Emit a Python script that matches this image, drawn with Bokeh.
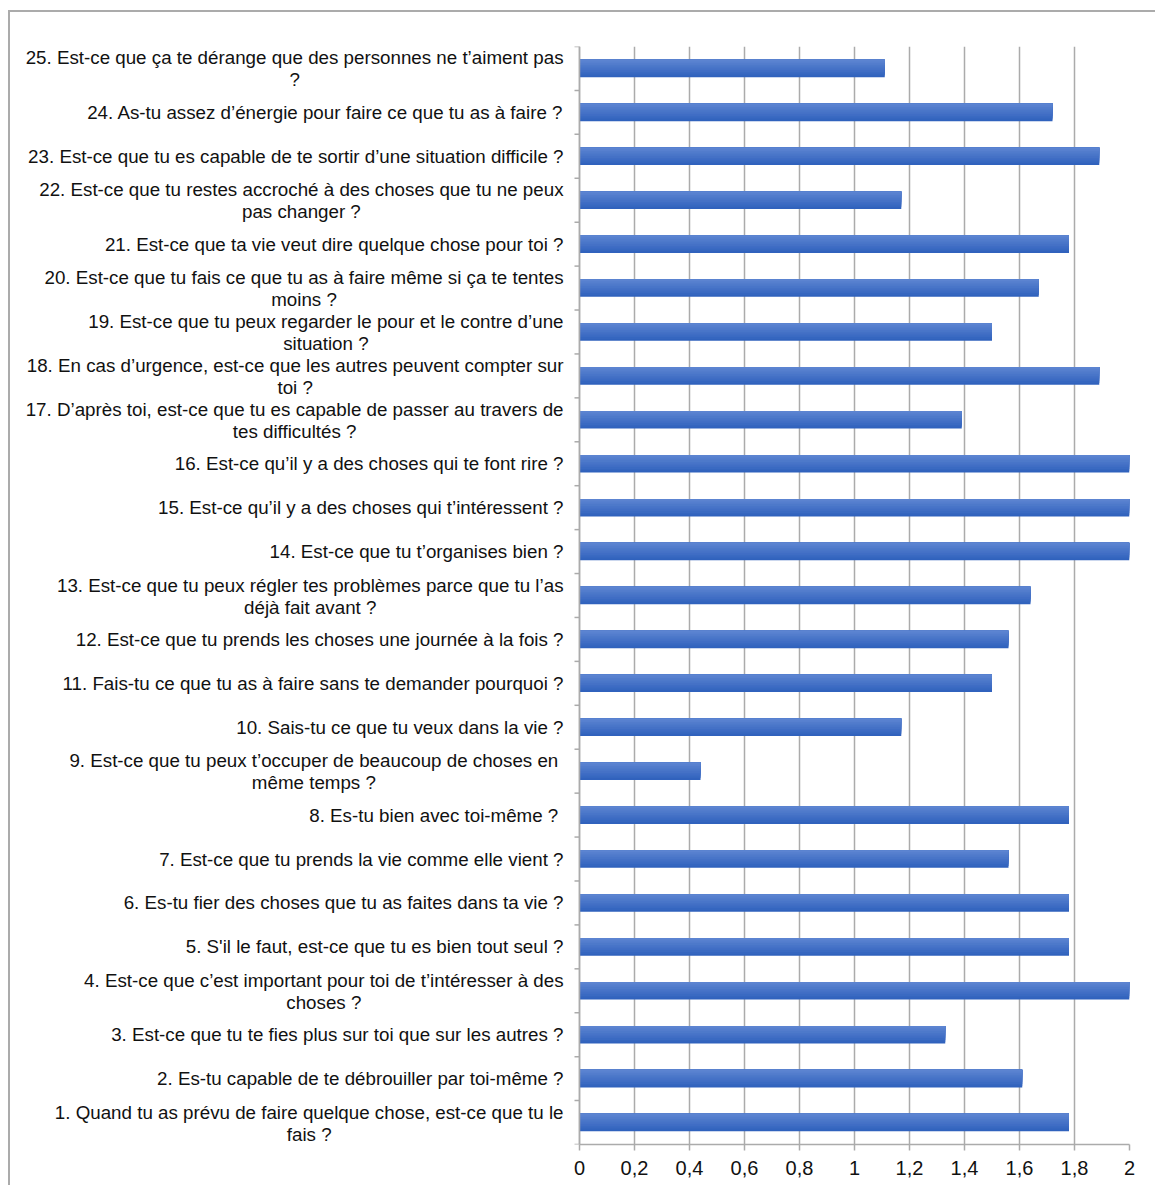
import numpy as np
from bokeh.plotting import figure
from bokeh.models import ColumnDataSource, FixedTicker, CustomJSTickFormatter, Range1d, Span
from bokeh.core.properties import value
from bokeh.embed import file_html
from bokeh.resources import INLINE

# ---------------- data ----------------
questions = list(range(1, 26))
scores = [1.78, 1.61, 1.33, 2.00, 1.78, 1.78, 1.56, 1.78, 0.44, 1.17,
          1.50, 1.56, 1.64, 2.00, 2.00, 2.00, 1.39, 1.89, 1.50, 1.67,
          1.78, 1.17, 1.89, 1.72, 1.11]
label_line1 = [
    "1. Quand tu as prévu de faire quelque chose, est-ce que tu le",
    "2. Es-tu capable de te débrouiller par toi-même ?",
    "3. Est-ce que tu te fies plus sur toi que sur les autres ?",
    "4. Est-ce que c’est important pour toi de t’intéresser à des",
    "5. S'il le faut, est-ce que tu es bien tout seul ?",
    "6. Es-tu fier des choses que tu as faites dans ta vie ?",
    "7. Est-ce que tu prends la vie comme elle vient ?",
    "8. Es-tu bien avec toi-même ? ",
    "9. Est-ce que tu peux t’occuper de beaucoup de choses en ",
    "10. Sais-tu ce que tu veux dans la vie ?",
    "11. Fais-tu ce que tu as à faire sans te demander pourquoi ?",
    "12. Est-ce que tu prends les choses une journée à la fois ?",
    "13. Est-ce que tu peux régler tes problèmes parce que tu l’as",
    "14. Est-ce que tu t’organises bien ?",
    "15. Est-ce qu’il y a des choses qui t’intéressent ?",
    "16. Est-ce qu’il y a des choses qui te font rire ?",
    "17. D’après toi, est-ce que tu es capable de passer au travers de",
    "18. En cas d’urgence, est-ce que les autres peuvent compter sur",
    "19. Est-ce que tu peux regarder le pour et le contre d’une",
    "20. Est-ce que tu fais ce que tu as à faire même si ça te tentes",
    "21. Est-ce que ta vie veut dire quelque chose pour toi ?",
    "22. Est-ce que tu restes accroché à des choses que tu ne peux",
    "23. Est-ce que tu es capable de te sortir d’une situation difficile ?",
    "24. As-tu assez d’énergie pour faire ce que tu as à faire ?",
    "25. Est-ce que ça te dérange que des personnes ne t’aiment pas",
]
label_line2 = [
    "fais ?", "", "", "choses ?", "", "", "", "", "même temps ?", "",
    "", "", "déjà fait avant ?", "", "", "", "tes difficultés ?", "toi ?",
    "situation ?", "moins ?", "", "pas changer ?", "", "", "?",
]
x_ticks = [0, 0.2, 0.4, 0.6, 0.8, 1.0, 1.2, 1.4, 1.6, 1.8, 2.0]
x_max = 2.0

# ---------------- layout / style ----------------
FONT = "Liberation Sans"
FS = 18.75           # px, category labels
AXIS_GAP = 16        # px between value axis and label right edge
LINE_SHIFT = 11      # px half line spacing for two-line labels
CANVAS_W, CANVAS_H = 1147, 1175
FRAME_LEFT = 4       # px, frame starts at left of canvas (labels live inside frame)
AXIS_X = 569         # px from canvas left to value 0
FRAME_RIGHT_PAD = 28
PX_PER_UNIT = (CANVAS_W - FRAME_RIGHT_PAD - AXIS_X) / x_max
x_start = -(AXIS_X - FRAME_LEFT) / PX_PER_UNIT

W = {c: 556 for c in "0123456789"}
W.update({" ": 278, ".": 278, ",": 278, "'": 191, "’": 222, "-": 333, "?": 556})
W.update(dict(zip("ABCDEFGHIJKLMNOPQRSTUVWXYZ",
                  [667, 667, 722, 722, 667, 611, 778, 722, 278, 500, 667, 556, 833,
                   722, 778, 667, 778, 722, 667, 611, 722, 667, 944, 667, 667, 611])))
W.update(dict(zip("abcdefghijklmnopqrstuvwxyz",
                  [556, 556, 500, 556, 556, 278, 556, 556, 222, 222, 500, 222, 833,
                   556, 556, 556, 556, 333, 500, 278, 556, 500, 722, 500, 500, 500])))
for c in "éèêëàâôùû":
    W[c] = 556
W["ç"] = 500
for c in "îï":
    W[c] = 278


def text_width(s):
    return sum(W.get(c, 556) for c in s) * FS / 1000.0


l1_y, l1_yoff, l1_text = [], [], []
l2_y, l2_yoff, l2_xoff, l2_text = [], [], [], []
for q, a, b in zip(questions, label_line1, label_line2):
    l1_y.append(q)
    l1_text.append(a)
    if b:
        l1_yoff.append(-LINE_SHIFT + 0.5)
        trailing = text_width(a) - text_width(a.rstrip())
        l2_y.append(q)
        l2_yoff.append(LINE_SHIFT + 0.5)
        l2_xoff.append(-AXIS_GAP - trailing - text_width(a.rstrip()) / 2.0)
        l2_text.append(b)
    else:
        l1_yoff.append(0.0)

src1 = ColumnDataSource(dict(x=[0.0] * len(l1_y), y=l1_y, yoff=l1_yoff, text=l1_text))
src2 = ColumnDataSource(dict(x=[0.0] * len(l2_y), y=l2_y, yoff=l2_yoff, xoff=l2_xoff, text=l2_text))

# ---------------- figure ----------------
p = figure(width=CANVAS_W, height=CANVAS_H,
           x_range=Range1d(x_start, x_max), y_range=Range1d(0.5, len(questions) + 0.5),
           output_backend="svg", toolbar_location=None, y_axis_location=None,
           min_border_left=FRAME_LEFT, min_border_right=FRAME_RIGHT_PAD,
           min_border_top=34, min_border_bottom=43)
p.styles = {"border-left": "2px solid #ABABAB", "border-top": "2px solid #ABABAB",
            "margin-top": "10px", "margin-left": "8px"}
p.outline_line_color = None
p.background_fill_color = "white"
p.border_fill_color = "white"

GRID = "#ABABAB"
p.ygrid.visible = False
p.xgrid.ticker = FixedTicker(ticks=x_ticks)
p.xgrid.grid_line_color = GRID
p.xgrid.grid_line_width = 1.5

# bars with vertical gradient (light top -> dark bottom), layered to avoid seams
BAR_H = 0.40
N_LAYERS = 10
top_rgb = np.array([94, 134, 210])
bot_rgb = np.array([46, 96, 188])
qs = np.array(questions, dtype=float)
for k in range(N_LAYERS):
    frac = (N_LAYERS - k) / N_LAYERS          # covered fraction measured from bar top
    t = (frac - 0.5 / N_LAYERS)               # position of this layer's lowest band (1=bottom)
    rgb = (top_rgb * (1 - t) + bot_rgb * t).round().astype(int)
    col = "#%02x%02x%02x" % tuple(rgb)
    h = BAR_H * frac
    p.hbar(y=qs + BAR_H / 2 - h / 2, left=0, right=scores, height=h,
           fill_color=col, line_color=None)

# value axis (bottom) restricted to 0..2
p.xaxis.bounds = (0, x_max)
p.xaxis.ticker = FixedTicker(ticks=x_ticks)
p.xaxis.formatter = CustomJSTickFormatter(
    code="return (Math.round(tick*10)/10).toString().replace('.', ',');")
p.xaxis.axis_line_color = GRID
p.xaxis.axis_line_width = 1.5
p.xaxis.major_tick_line_color = GRID
p.xaxis.major_tick_line_width = 1.5
p.xaxis.major_tick_out = 6
p.xaxis.major_tick_in = 0
p.xaxis.minor_tick_line_color = None
p.xaxis.major_label_text_font = FONT
p.xaxis.major_label_text_font_size = "20px"
p.xaxis.major_label_text_color = "#111111"
p.xaxis.major_label_standoff = 10

# category axis line at value 0 with ticks at category boundaries
p.add_layout(Span(location=0, dimension="height", line_color=GRID, line_width=1.5))
boundaries = [q - 0.5 for q in questions] + [questions[-1] + 0.5]
p.ray(x=0, y=boundaries, length=5, length_units="screen", angle=np.pi,
      line_color=GRID, line_width=1.5)

# category labels
p.text(x="x", y="y", text="text", source=src1, x_offset=-AXIS_GAP, y_offset="yoff",
       text_align="right", text_baseline="middle",
       text_font=value(FONT), text_font_size="%.2fpx" % FS, text_color="#111111")
p.text(x="x", y="y", text="text", source=src2, x_offset="xoff", y_offset="yoff",
       text_align="center", text_baseline="middle",
       text_font=value(FONT), text_font_size="%.2fpx" % FS, text_color="#111111")

open("out.html", "w").write(file_html(p, INLINE))
